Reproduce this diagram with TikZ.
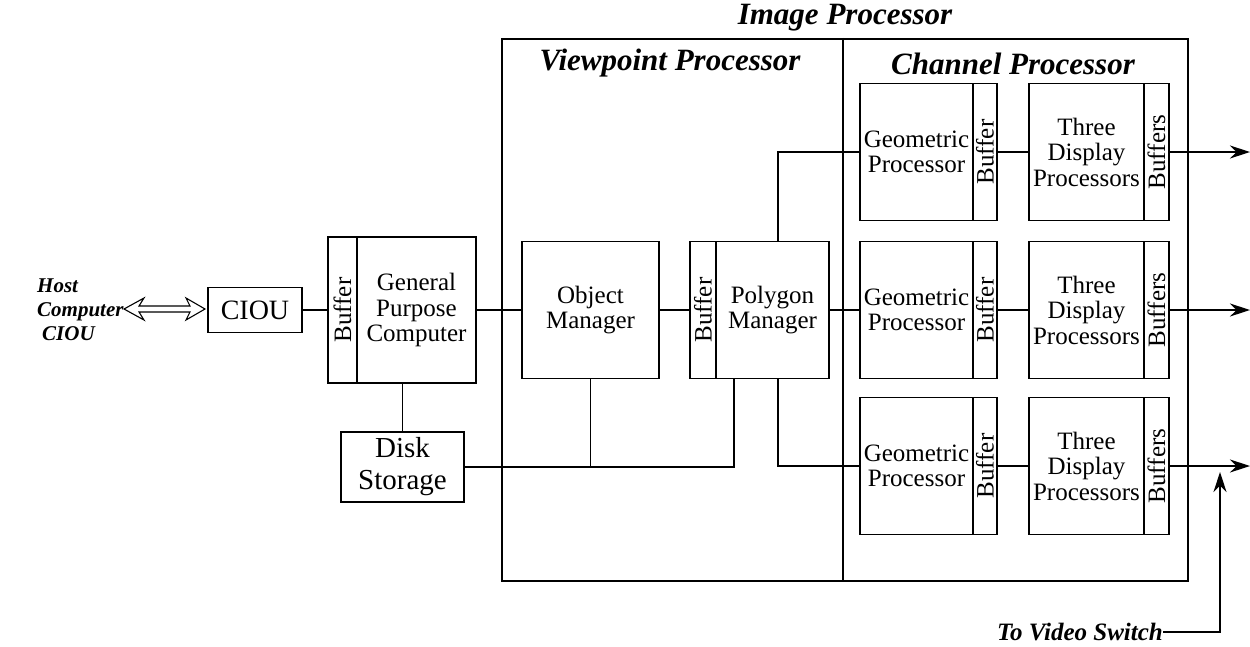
\documentclass[tikz,border=0pt]{standalone}
\usepackage{fontspec}
\setmainfont{Liberation Serif}
\usetikzlibrary{arrows.meta}
\begin{document}
\begin{tikzpicture}[x=1pt,y=-1pt,
  blk/.style={draw,line width=1.8pt,inner sep=0pt,align=center,font=\fontsize{25}{25.5}\selectfont},
  conn/.style={line width=1.3pt},
  outarrow/.style={line width=1.3pt,-{Stealth[length=20pt,width=13pt]}},
  ttl/.style={font=\fontsize{31}{34}\selectfont\bfseries\itshape,inner sep=0pt}]
\useasboundingbox (0,0) rectangle (1250,646);
% outer image processor
\node[draw,line width=2.2pt,minimum width=686pt,minimum height=542pt,inner sep=0pt] (ip) at (845,310) {};
\coordinate (divx) at (843,0);
\draw[line width=2pt] (divx |- ip.north) -- (divx |- ip.south);
\node[ttl] (iptitle) at (845,18) {Image Processor};
\node[ttl] (vptitle) at (670,63) {Viewpoint Processor};
\node[ttl] (cptitle) at (1013,64) {Channel Processor};
% left part
\node[font=\fontsize{21}{24}\selectfont\bfseries\itshape,align=left,anchor=west,inner sep=0pt] (host) at (37,310) {Host\\Computer\\\hspace*{5pt}CIOU};
\node[blk,minimum width=94pt,minimum height=45pt,font=\fontsize{28}{32}\selectfont] (ciou) at (255,310) {CIOU};
\node[blk,minimum width=29pt,minimum height=146pt] (gbuf) at (342.5,310) {\rotatebox{90}{Buffer}};
\node[blk,minimum width=119pt,minimum height=146pt] (gpc) at (416.5,310) {General\\Purpose\\Computer};
\node[blk,minimum width=123pt,minimum height=70pt,font=\fontsize{29}{32}\selectfont] (disk) at (402.5,467) {Disk\\Storage};
% viewpoint processor
\node[blk,minimum width=137pt,minimum height=137pt] (om) at (590.5,310) {Object\\Manager};
\node[blk,minimum width=26pt,minimum height=137pt] (pbuf) at (703,310) {\rotatebox{90}{Buffer}};
\node[blk,minimum width=113pt,minimum height=137pt] (pm) at (772.5,310) {Polygon\\Manager};
% channel processor rows
\foreach \r/\y in {1/152,2/310,3/466}{
  \node[blk,minimum width=113pt,minimum height=137pt] (gp\r) at (916.5,\y) {Geometric\\Processor};
  \node[blk,minimum width=24pt,minimum height=137pt] (gb\r) at (985,\y) {\rotatebox{90}{Buffer}};
  \node[blk,minimum width=115pt,minimum height=137pt] (dp\r) at (1086.5,\y) {Three\\Display\\Processors};
  \node[blk,minimum width=25pt,minimum height=137pt] (db\r) at (1156.5,\y) {\rotatebox{90}{Buffers}};
  \coordinate (out\r) at (1250,\y);
  \draw[conn] (gb\r) -- (dp\r);
  \draw[outarrow] (db\r) -- (out\r);
}
% host double arrow
\draw[line width=1.1pt,fill=white] (124,309) -- (144,298) -- (139,306) -- (190,306) -- (186,298) -- (205,309)
  -- (186,320) -- (190,312) -- (139,312) -- (144,320) -- cycle;
% connectors
\coordinate (xa) at (778,0);
\coordinate (xb) at (734,0);
\draw[conn] (ciou) -- (gbuf);
\draw[conn] (gpc) -- (om);
\draw[conn] (om) -- (pbuf);
\draw[conn] (pm) -- (gp2);
\draw[conn] (disk.north) -- (disk.north |- gpc.south);
\draw[conn] (xa |- pm.north) -- (xa |- gp1) -- (gp1);
\draw[conn] (xa |- pm.south) -- (xa |- gp3) -- (gp3);
\draw[conn] (disk.east) -- (xb |- disk.east) -- (xb |- pm.south);
\draw[conn] (om.south) -- (om.south |- disk.east);
% video switch
\node[font=\fontsize{25}{27}\selectfont\bfseries\itshape,anchor=east,inner sep=0pt] (vs) at (1163,632) {To Video Switch};
\coordinate (xv) at (1220,0);
\coordinate (vsend) at (1220,472);
\draw[outarrow] (vs.east) -- (xv |- vs.east) -- (vsend);
\end{tikzpicture}
\end{document}
